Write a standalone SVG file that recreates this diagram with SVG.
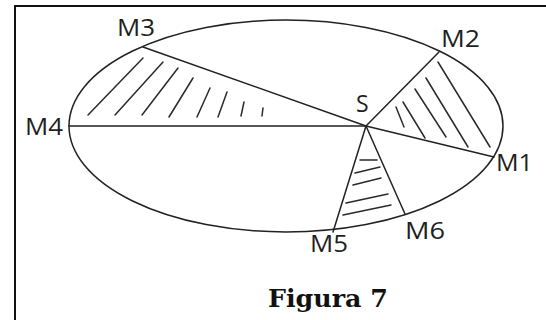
<svg xmlns="http://www.w3.org/2000/svg" width="546" height="320" viewBox="0 0 546 320">
  <style>
    .ln { stroke: #222; stroke-width: 1.5; fill: none; stroke-linecap: round; }
    .hatch { stroke: #2a2a2a; stroke-width: 1.5; fill: none; stroke-linecap: round; }
    .lbl { font-family: "Open Sans", "Noto Sans", sans-serif; font-size: 23px; fill: #1f1f1f; }
    .cap { font-family: "DejaVu Serif", "Liberation Serif", serif; font-size: 25px; font-weight: bold; fill: #111; }
  </style>
  <rect x="0" y="0" width="546" height="320" fill="#fff"/>
  <rect id="frame" x="15" y="6" width="600" height="400" fill="none" stroke="#111" stroke-width="2"/>

  <g id="orbit">
    <ellipse class="ln" cx="286" cy="126" rx="217" ry="106"/>
  </g>

  <g id="connectors">
    <line class="ln" x1="366" y1="126" x2="143" y2="47"/>
    <line class="ln" x1="366" y1="126" x2="69" y2="126"/>
    <line class="ln" x1="366" y1="126" x2="439" y2="52"/>
    <line class="ln" x1="366" y1="126" x2="494" y2="157"/>
    <line class="ln" x1="366" y1="126" x2="333" y2="232"/>
    <line class="ln" x1="366" y1="126" x2="405" y2="214"/>
  </g>

  <g id="hatch-M3-M4">
    <line class="hatch" x1="143" y1="58" x2="88" y2="115"/>
    <line class="hatch" x1="163" y1="62" x2="115" y2="115"/>
    <line class="hatch" x1="178" y1="68" x2="142" y2="115"/>
    <line class="hatch" x1="193" y1="78" x2="169" y2="117"/>
    <line class="hatch" x1="210" y1="88" x2="197" y2="117"/>
    <line class="hatch" x1="227" y1="92" x2="218" y2="117"/>
    <line class="hatch" x1="244" y1="102" x2="241" y2="116"/>
    <line class="hatch" x1="263" y1="108" x2="262" y2="116"/>
  </g>

  <g id="hatch-M1-M2">
    <line class="hatch" x1="396" y1="107" x2="404" y2="127"/>
    <line class="hatch" x1="403" y1="102" x2="425" y2="138"/>
    <line class="hatch" x1="415" y1="89" x2="446" y2="137"/>
    <line class="hatch" x1="426" y1="78" x2="468" y2="147"/>
    <line class="hatch" x1="438" y1="62" x2="490" y2="147"/>
  </g>

  <g id="hatch-M5-M6">
    <line class="hatch" x1="360" y1="160" x2="377" y2="160"/>
    <line class="hatch" x1="355" y1="173" x2="380" y2="167"/>
    <line class="hatch" x1="353" y1="185" x2="381" y2="178"/>
    <line class="hatch" x1="346" y1="203" x2="388" y2="194"/>
    <line class="hatch" x1="343" y1="215" x2="391" y2="205"/>
  </g>

  <g id="labels">
    <g id="M3"><text class="lbl" x="117" y="36" textLength="38" lengthAdjust="spacingAndGlyphs">M3</text></g>
    <g id="M2"><text class="lbl" x="441" y="47" textLength="39" lengthAdjust="spacingAndGlyphs">M2</text></g>
    <g id="M4"><text class="lbl" x="25" y="135" textLength="38" lengthAdjust="spacingAndGlyphs">M4</text></g>
    <g id="S"><text class="lbl" x="356" y="112">S</text></g>
    <g id="M1"><text class="lbl" x="496" y="171" textLength="37" lengthAdjust="spacingAndGlyphs">M1</text></g>
    <g id="M5"><text class="lbl" x="310" y="252" textLength="38" lengthAdjust="spacingAndGlyphs">M5</text></g>
    <g id="M6"><text class="lbl" x="405" y="239" textLength="40" lengthAdjust="spacingAndGlyphs">M6</text></g>
  </g>

  <g id="caption">
    <text class="cap" x="268" y="307" textLength="120" lengthAdjust="spacingAndGlyphs">Figura 7</text>
  </g>
</svg>
